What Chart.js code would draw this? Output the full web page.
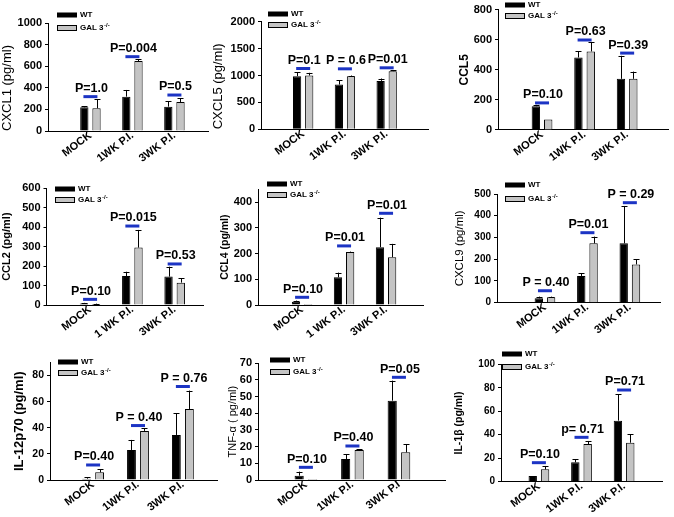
<!DOCTYPE html>
<html><head><meta charset="utf-8">
<script src="https://cdn.jsdelivr.net/npm/chart.js@4.4.1/dist/chart.umd.min.js"></script>
<style>
html,body{margin:0;padding:0;background:#fff;}
#wrap{position:relative;width:674px;height:517px;overflow:hidden;background:#fff;}
#wrap canvas{position:absolute;left:0;top:0;}
</style></head><body><div id="wrap"></div>
<script>
// ---------- DATA ----------
const catsA = ['MOCK', '1WK P.I.', '3WK P.I.'];
const catsB = ['MOCK', '1 WK P.I.', '3WK P.I.'];
const catsC = ['MOCK', '1WK P.I.', '3WK P.I'];
const seriesNames = ['WT', 'GAL 3'];

const cxcl1WT = [220, 319, 226];
const cxcl1WTErr = [12, 62, 52];
const cxcl1GAL = [211, 650, 269];
const cxcl1GALErr = [83, 16, 34];
const cxcl1P = ['P=1.0', 'P=0.004', 'P=0.5'];
const cxcl1PBar = [319, 690, 334];

const cxcl5WT = [988, 832, 900];
const cxcl5WTErr = [68, 81, 44];
const cxcl5GAL = [1000, 988, 1081];
const cxcl5GALErr = [50, 12, 12];
const cxcl5P = ['P=0.1', 'P = 0.6', 'P=0.01'];
const cxcl5PBar = [1130, 1124, 1143];

const ccl5WT = [158, 482, 340];
const ccl5WTErr = [9, 40, 153];
const ccl5GAL = [70, 522, 340];
const ccl5GALErr = [0, 63, 48];
const ccl5P = ['P=0.10', 'P=0.63', 'P=0.39'];
const ccl5PBar = [180, 598, 511];

const ccl2WT = [8, 149, 146];
const ccl2WTErr = [3, 22, 51];
const ccl2GAL = [5, 295, 115];
const ccl2GALErr = [2, 91, 22];
const ccl2P = ['P=0.10', 'P=0.015', 'P=0.53'];
const ccl2PBar = [29, 406, 211];

const ccl4WT = [13, 108, 225];
const ccl4WTErr = [4, 18, 115];
const ccl4GAL = [4, 206, 186];
const ccl4GALErr = [0, 2, 52];
const ccl4P = ['P=0.10', 'P=0.01', 'P=0.01'];
const ccl4PBar = [30, 230, 357];

const cxcl9WT = [20, 123, 273];
const cxcl9WTErr = [8, 12, 172];
const cxcl9GAL = [25, 273, 176];
const cxcl9GALErr = [3, 31, 23];
const cxcl9P = ['P = 0.40', 'P=0.01', 'P = 0.29'];
const cxcl9PBar = [55, 322, 460];

const il12WT = [1, 23, 34.5];
const il12WTErr = [1, 7.7, 16.6];
const il12GAL = [5.9, 37.6, 54.4];
const il12GALErr = [2.3, 2, 14.1];
const il12P = ['P=0.40', 'P = 0.40', 'P = 0.76'];
const il12PBar = [11.5, 41.7, 71.6];

const tnfWT = [2.6, 12.6, 47.6];
const tnfWTErr = [2.4, 3, 12];
const tnfGAL = [0.6, 18, 16.6];
const tnfGALErr = [0, 0.4, 5];
const tnfP = ['P=0.10', 'P=0.40', 'P=0.05'];
const tnfPBar = [7.6, 20.4, 61.6];

const il1bWT = [4.8, 16.5, 52];
const il1bWTErr = [0, 2.5, 22.4];
const il1bGAL = [10.5, 32.1, 33.2];
const il1bGALErr = [2.9, 2.6, 7.1];
const il1bP = ['P=0.10', 'p= 0.71', 'P=0.71'];
const il1bPBar = [16.2, 37.8, 78.1];

// ---------- PANELS (data refs + layout) ----------
const FONT = "'Liberation Sans', Arial, sans-serif";
const panels = [
  {title:'CXCL1 (pg/ml)', tf:{size:13, weight:'normal'}, talign:'start', tx:7,
   cats:catsA, wt:cxcl1WT, wtE:cxcl1WTErr, gal:cxcl1GAL, galE:cxcl1GALErr, p:cxcl1P, pb:cxcl1PBar,
   L:48, R:208, top:23.3, bottom:131, yMax:1000, step:200, xMin:-0.01, xMax:3.80, tick:11, leg:[57,15,28]},
  {title:'CXCL5 (pg/ml)', tf:{size:13, weight:'normal'}, talign:'start', tx:218,
   cats:catsA, wt:cxcl5WT, wtE:cxcl5WTErr, gal:cxcl5GAL, galE:cxcl5GALErr, p:cxcl5P, pb:cxcl5PBar,
   L:261, R:428, top:21.7, bottom:129.3, yMax:2000, step:500, xMin:-0.01, xMax:3.99, tick:11, leg:[268,14,25]},
  {title:'CCL5', tf:{size:12, weight:'bold'}, talign:'center', tx:465,
   cats:catsA, wt:ccl5WT, wtE:ccl5WTErr, gal:ccl5GAL, galE:ccl5GALErr, p:ccl5P, pb:ccl5PBar,
   L:498, R:668, top:8.3, bottom:130, yMax:800, step:200, xMin:-0.035, xMax:3.96, tick:11, leg:[505,5,16]},
  {title:'CCL2 (pg/ml)', tf:{size:11, weight:'bold'}, talign:'center', tx:6,
   cats:catsB, wt:ccl2WT, wtE:ccl2WTErr, gal:ccl2GAL, galE:ccl2GALErr, p:ccl2P, pb:ccl2PBar,
   L:46.5, R:203, top:188.3, bottom:305, yMax:600, step:100, xMin:-0.03, xMax:3.67, tick:11, leg:[55,189,200]},
  {title:'CCL4 (pg/ml)', tf:{size:10.5, weight:'bold'}, talign:'center', tx:225,
   cats:catsB, wt:ccl4WT, wtE:ccl4WTErr, gal:ccl4GAL, galE:ccl4GALErr, p:ccl4P, pb:ccl4PBar,
   L:258, R:423, top:189.4, bottom:305, yMax:450, step:100, xMin:-0.05, xMax:3.88, tick:11, leg:[267,184,195]},
  {title:'CXCL9 (pg/ml)', tf:{size:11.5, weight:'normal'}, talign:'center', tx:460,
   cats:catsA, wt:cxcl9WT, wtE:cxcl9WTErr, gal:cxcl9GAL, galE:cxcl9GALErr, p:cxcl9P, pb:cxcl9PBar,
   L:497, R:660, top:194, bottom:302.7, yMax:500, step:100, xMin:-0.13, xMax:3.71, tick:10, leg:[505,185,199]},
  {title:'IL-12p70 (pg/ml)', tf:{size:13, weight:'bold'}, talign:'center', tx:19,
   cats:catsA, wt:il12WT, wtE:il12WTErr, gal:il12GAL, galE:il12GALErr, p:il12P, pb:il12PBar,
   L:50, R:217, top:362.5, bottom:480, yMax:90, step:20, xMin:0.04, xMax:3.76, tick:10.5, leg:[58,362,373]},
  {title:'TNF-\u03b1 ( pg/ml)', tf:{size:11, weight:'normal'}, talign:'center', tx:233,
   cats:catsC, wt:tnfWT, wtE:tnfWTErr, gal:tnfGAL, galE:tnfGALErr, p:tnfP, pb:tnfPBar,
   L:258, R:445, top:363.3, bottom:480, yMax:70, step:10, xMin:-0.03, xMax:3.99, tick:11, leg:[270,360,372]},
  {title:'IL-1\u03b2 (pg/ml)', tf:{size:10.5, weight:'bold'}, talign:'center', tx:459,
   cats:catsA, wt:il1bWT, wtE:il1bWTErr, gal:il1bGAL, galE:il1bGALErr, p:il1bP, pb:il1bPBar,
   L:501, R:662, top:364.3, bottom:481.7, yMax:100, step:20, xMin:0.11, xMax:3.89, tick:10, leg:[502,354,367]}
];

const W = 674, H = 517;
const BLUE = '#1c34c4', GRAY = '#c4c4c4';
Chart.defaults.font.family = FONT;
Chart.defaults.color = '#000';

function makePlugin(pn) {
  return {
    id: 'annot',
    afterDatasetsDraw(chart) {
      const ctx = chart.ctx, xs = chart.scales.x, ys = chart.scales.y;
      ctx.save();
      // error bars
      [pn.wtE, pn.galE].forEach((errs, di) => {
        const meta = chart.getDatasetMeta(di);
        const vals = di === 0 ? pn.wt : pn.gal;
        meta.data.forEach((bar, j) => {
          const e = errs[j];
          if (!e) return;
          const y0 = ys.getPixelForValue(vals[j]);
          const y1 = ys.getPixelForValue(vals[j] + e);
          const x = Math.round(bar.x) + 0.5;
          const cap = 3;
          ctx.strokeStyle = '#000';
          ctx.lineWidth = 1;
          ctx.beginPath();
          ctx.moveTo(x, y0); ctx.lineTo(x, y1);
          ctx.moveTo(x - cap, Math.round(y1) + 0.5); ctx.lineTo(x + cap, Math.round(y1) + 0.5);
          ctx.stroke();
        });
      });
      // p-value bars and labels
      pn.p.forEach((txt, j) => {
        const cx = xs.getPixelForValue(j + 1);
        const y = ys.getPixelForValue(pn.pb[j]);
        ctx.strokeStyle = BLUE;
        ctx.lineWidth = 3;
        ctx.beginPath();
        ctx.moveTo(cx - 7, y); ctx.lineTo(cx + 7, y);
        ctx.stroke();
        ctx.fillStyle = '#000';
        ctx.font = 'bold 12.5px ' + FONT;
        ctx.textAlign = 'center';
        ctx.textBaseline = 'middle';
        ctx.fillText(txt, cx + 1, y - 8);
      });
      // legend
      const [lx, y1, y2] = pn.leg;
      ctx.lineWidth = 1;
      ctx.strokeStyle = '#000';
      ctx.fillStyle = '#000';
      ctx.fillRect(lx, y1 - 2.5, 20, 5);
      ctx.fillStyle = GRAY;
      ctx.fillRect(lx + 0.5, y2 - 2, 19, 4);
      ctx.strokeRect(lx + 0.5, y2 - 2.5, 19, 5);
      ctx.fillStyle = '#000';
      ctx.textAlign = 'left';
      ctx.textBaseline = 'middle';
      ctx.font = 'bold 8px ' + FONT;
      ctx.fillText(seriesNames[0], lx + 23, y1);
      ctx.fillText(seriesNames[1], lx + 23, y2);
      const w = ctx.measureText(seriesNames[1]).width;
      ctx.font = 'bold 6px ' + FONT;
      ctx.fillText('-/-', lx + 23 + w + 0.5, y2 - 3);
      ctx.restore();
    }
  };
}

const wrap = document.getElementById('wrap');
panels.forEach(pn => {
  const cv = document.createElement('canvas');
  cv.width = W; cv.height = H;
  wrap.appendChild(cv);
  const lh = pn.tf.size * 1.2;
  const XH = Math.min(40, Math.floor(H - pn.bottom));
  new Chart(cv.getContext('2d'), {
    type: 'bar',
    data: {
      datasets: [
        {label: seriesNames[0], data: pn.wt.map((v, i) => ({x: i + 1, y: v})),
         backgroundColor: '#000', borderColor: '#000', borderWidth: 1},
        {label: seriesNames[1], data: pn.gal.map((v, i) => ({x: i + 1, y: v})),
         backgroundColor: GRAY, borderColor: '#000', borderWidth: 1}
      ]
    },
    options: {
      responsive: false, animation: false, devicePixelRatio: 1, events: [],
      categoryPercentage: 0.58, barPercentage: 0.68,
      layout: {padding: {left: 0, top: pn.top, right: W - pn.R, bottom: H - pn.bottom - XH}},
      plugins: {legend: {display: false}, tooltip: {enabled: false}},
      scales: {
        x: {
          type: 'linear', min: pn.xMin, max: pn.xMax, offset: false, bounds: 'data',
          grid: {display: false, drawTicks: false, offset: false},
          border: {display: true, color: '#000', width: 1},
          ticks: {
            autoSkip: false, includeBounds: false,
            minRotation: 37, maxRotation: 37, padding: -2,
            font: {size: 11, weight: 'bold'}, color: '#000',
            callback: v => pn.cats[v - 1]
          },
          afterBuildTicks: s => { s.ticks = pn.cats.map((c, i) => ({value: i + 1})); },
          afterFit: s => { s.height = XH; }
        },
        y: {
          type: 'linear', min: 0, max: pn.yMax,
          grid: {display: true, drawOnChartArea: false, drawTicks: true, tickLength: 3, color: '#000'},
          border: {display: true, color: '#000', width: 1},
          ticks: {stepSize: pn.step, includeBounds: false, padding: 3, color: '#000',
                  font: {size: pn.tick, weight: 'bold'}, callback: v => String(v)},
          title: {display: true, text: pn.title, color: '#000', align: pn.talign,
                  font: {size: pn.tf.size, weight: pn.tf.weight},
                  padding: {top: Math.max(0, pn.tx - lh / 2), bottom: 0}},
          afterFit: s => { s.width = pn.L; }
        }
      }
    },
    plugins: [makePlugin(pn)]
  });
});
</script>
</body></html>
